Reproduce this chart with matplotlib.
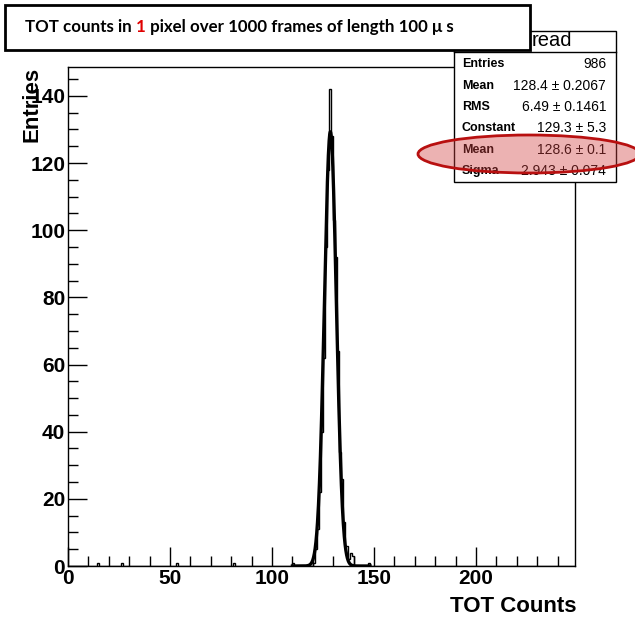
import matplotlib.pyplot as plt
import matplotlib.patches as patches
import numpy as np

# Datos del histograma (bins de 1 unidad, solo los no vacíos)
# ========================================
bin_lo = [14, 26, 53, 81, 110, 120, 121, 122, 123, 124, 125, 126, 127, 128, 129,
          130, 131, 132, 133, 134, 135, 136, 137, 138, 139, 147]
counts = [1, 1, 1, 1, 1, 1, 5, 11, 22, 40, 62, 95, 118, 142, 128,
          103, 92, 64, 34, 26, 13, 6, 2, 4, 3, 1]

# Parámetros del ajuste gaussiano (caja de estadísticas)
fit_const, fit_mean, fit_sigma = 129.3, 128.6, 2.943
fit_range = (110, 148)

stats_labels = ['Entries', 'Mean', 'RMS', 'Constant', 'Mean', 'Sigma']
stats_values = ['986', '128.4 \u00b1 0.2067', '6.49 \u00b1 0.1461',
                '129.3 \u00b1 5.3', '128.6 \u00b1 0.1', '2.943 \u00b1 0.074']

W, H = 635, 621
def fx(p): return p / W
def fy(p): return 1 - p / H

plt.rcParams['font.family'] = ['Liberation Sans', 'DejaVu Sans']

fig = plt.figure(figsize=(W / 100, H / 100), dpi=100)
ax = fig.add_axes([fx(68), fy(566), fx(575) - fx(68), fy(67) - fy(566)])

# Histograma
edges = np.arange(0, 251)
h = np.zeros(250)
for b, c in zip(bin_lo, counts):
    h[b] = c
ax.stairs(h, edges, color='black', linewidth=1.0)

# Curva de ajuste
xf = np.linspace(fit_range[0], fit_range[1], 400)
ax.plot(xf, fit_const * np.exp(-0.5 * ((xf - fit_mean) / fit_sigma) ** 2),
        color='black', linewidth=2.4)

ax.set_xlim(0, 248.5)
ax.set_ylim(0, 148.6)
ax.set_xticks([0, 50, 100, 150, 200])
ax.set_xticks(np.arange(0, 249, 10), minor=True)
ax.set_yticks(np.arange(0, 141, 20))
ax.set_yticks(np.arange(0, 149, 5), minor=True)
ax.tick_params(which='both', direction='in', top=False, right=False, width=1)
ax.tick_params(which='major', length=14, labelsize=15, pad=2)
ax.tick_params(which='minor', length=7)
for lab in ax.get_xticklabels() + ax.get_yticklabels():
    lab.set_fontweight('bold')
for s in ax.spines.values():
    s.set_linewidth(1)

fig.text(fx(32), fy(67), 'Entries', rotation=90, ha='center', va='top',
         fontsize=16, fontweight='bold')
fig.text(fx(576), fy(607), 'TOT Counts', ha='right', va='center',
         fontsize=16, fontweight='bold')

# Caja de estadísticas
fig.add_artist(patches.Rectangle((fx(454), fy(182)), fx(616) - fx(454), fy(31) - fy(182),
                                 transform=fig.transFigure, facecolor='white',
                                 edgecolor='black', linewidth=1, zorder=5))
fig.add_artist(plt.Line2D([fx(454), fx(616)], [fy(52), fy(52)], transform=fig.transFigure,
                          color='black', linewidth=1, zorder=6))
fig.text(fx(532), fy(41), 'read', ha='left', va='center', fontsize=14.5, zorder=6)
row_y = [64, 86, 107, 128, 150, 171]
for lab, val, y in zip(stats_labels, stats_values, row_y):
    fig.text(fx(462), fy(y), lab, ha='left', va='center', fontsize=9,
             fontweight='bold', zorder=6)
    fig.text(fx(606), fy(y), val, ha='right', va='center', fontsize=10,
             fontweight='medium', zorder=6)

fig.add_artist(patches.Ellipse((fx(529), fy(154)), fx(222), fx(38) * W / H,
                               transform=fig.transFigure,
                               facecolor=(0.82, 0.25, 0.25, 0.4),
                               edgecolor='#b81010', linewidth=2, zorder=7))

# Caja del título
fig.add_artist(patches.Rectangle((fx(5), fy(50)), fx(530) - fx(5), fy(5) - fy(50),
                                 transform=fig.transFigure, facecolor='white',
                                 edgecolor='black', linewidth=2, zorder=8))
tfont = dict(fontsize=12.2, fontweight='bold', family=['Lato', 'DejaVu Sans'], zorder=9)
t1 = fig.text(fx(25), fy(27), 'TOT counts in ', ha='left', va='center', **tfont)
t2 = fig.text(0, 0, '1', color='#e00000', ha='left', va='center', **tfont)
t3 = fig.text(0, 0, ' pixel over 1000 frames of length 100 \u03bc s', ha='left',
              va='center', **tfont)
fig.canvas.draw()
r = fig.canvas.get_renderer()
bb = t1.get_window_extent(r)
t2.set_position((bb.x1 / fig.bbox.width, fy(27)))
bb2 = t2.get_window_extent(r)
t3.set_position((bb2.x1 / fig.bbox.width, fy(27)))

fig.savefig('out.png', dpi=100)
